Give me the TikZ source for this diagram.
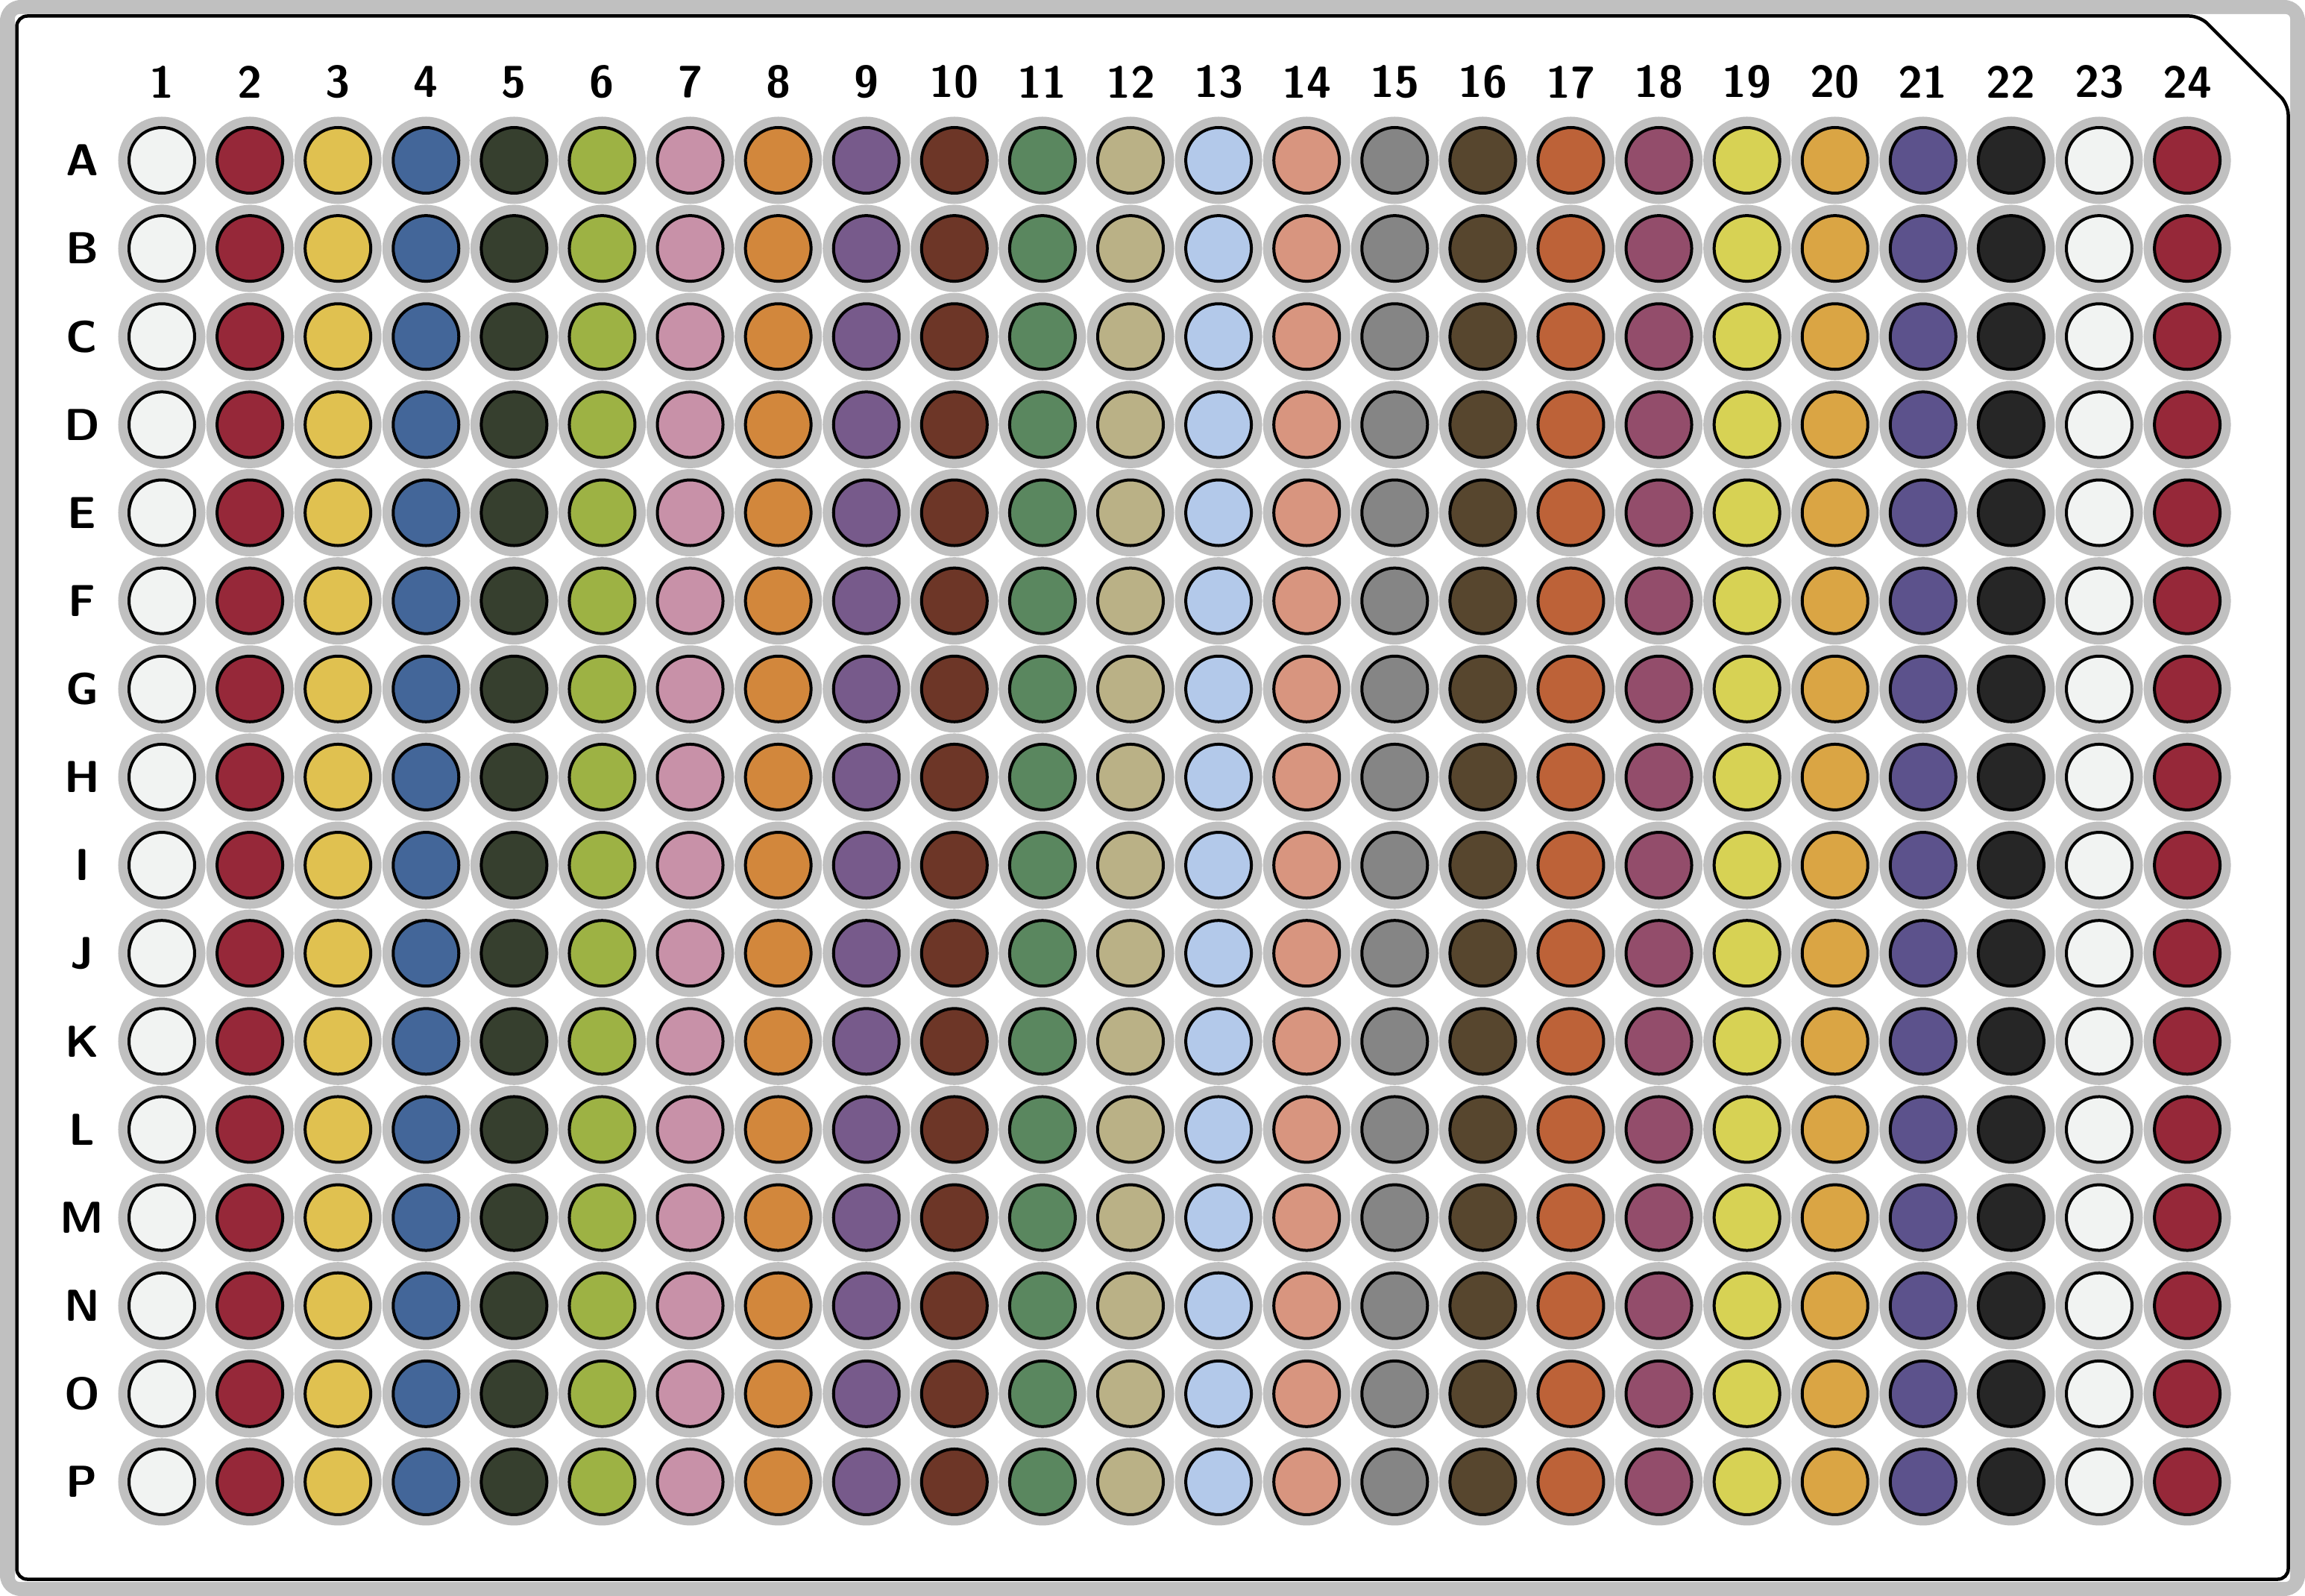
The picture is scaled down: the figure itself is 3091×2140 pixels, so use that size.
\documentclass[tikz,border=0pt]{standalone}
\definecolor{ringgray}{HTML}{C0C0C0}
\definecolor{col1}{HTML}{F1F3F2}
\definecolor{col2}{HTML}{962839}
\definecolor{col3}{HTML}{E0C150}
\definecolor{col4}{HTML}{436699}
\definecolor{col5}{HTML}{363F2E}
\definecolor{col6}{HTML}{9DB244}
\definecolor{col7}{HTML}{C891A8}
\definecolor{col8}{HTML}{D2873C}
\definecolor{col9}{HTML}{775A8B}
\definecolor{col10}{HTML}{6D3627}
\definecolor{col11}{HTML}{5A875F}
\definecolor{col12}{HTML}{BAB186}
\definecolor{col13}{HTML}{B3C9EA}
\definecolor{col14}{HTML}{D8957F}
\definecolor{col15}{HTML}{858585}
\definecolor{col16}{HTML}{57462E}
\definecolor{col17}{HTML}{BD6238}
\definecolor{col18}{HTML}{934D6B}
\definecolor{col19}{HTML}{D7D254}
\definecolor{col20}{HTML}{DAA544}
\definecolor{col21}{HTML}{5C528C}
\definecolor{col22}{HTML}{262626}
\definecolor{col23}{HTML}{F1F3F2}
\definecolor{col24}{HTML}{962839}
\begin{document}
\begin{tikzpicture}[x=1pt,y=-1pt,
  well/.style={circle, draw=black, line width=4pt, minimum size=88pt, inner sep=0pt,
    preaction={draw=ringgray, line width=29pt}},
  lbl/.style={inner sep=0pt, font=\sffamily\bfseries\fontsize{60}{70}\selectfont},
  plate/.style={draw=black, fill=white, line width=4.5pt, rounded corners=14pt}]
\useasboundingbox (0,0) rectangle (3091,2140);
\fill[ringgray, rounded corners=28pt] (0,0) rectangle (3091,2140);
\fill[white, rounded corners=6pt] (20,19) rectangle (3071,2121);
\draw[plate] (22.5,21.5) -- (2950,21.5) -- (3068.5,140) -- (3068.5,2117.5) -- (22.5,2117.5) -- cycle;
\foreach \c in {1,...,24} {
  \node[lbl] (col-\c) at ({217+118.09*(\c-1)},110) {\c};
}
\foreach \r [count=\ri from 0] in {A,B,C,D,E,F,G,H,I,J,K,L,M,N,O,P} {
  \node[lbl] (row-\r) at (110,{215+118.13*\ri}) {\r};
  \foreach \c in {1,...,24} {
    \node[well, fill=col\c] (w-\r-\c) at ({217+118.09*(\c-1)},{215+118.13*\ri}) {};
  }
}
\end{tikzpicture}
\end{document}
